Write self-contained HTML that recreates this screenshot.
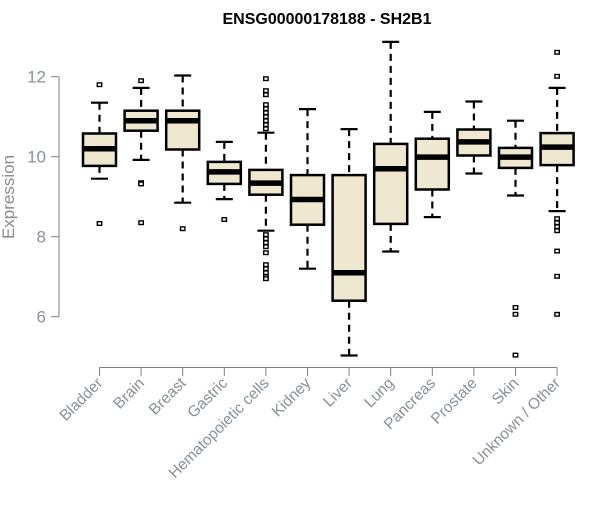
<!DOCTYPE html>
<html><head><meta charset="utf-8"><style>
body{margin:0;background:#fff;}
svg text{font-family:"Liberation Sans",Arial,sans-serif;}
</style></head><body>
<svg id="chart" width="600" height="500" xmlns="http://www.w3.org/2000/svg">
<text x="327" y="24" text-anchor="middle" font-size="16" font-weight="bold">ENSG00000178188 - SH2B1</text>
<text transform="translate(14,197) rotate(-90)" text-anchor="middle" font-size="17" fill="#8c8c8c">Expression</text>
<g id="axes"></g>
<g id="boxes"></g>
</svg>
<script>
const categories=["Bladder","Brain","Breast","Gastric","Hematopoietic cells","Kidney","Liver","Lung","Pancreas","Prostate","Skin","Unknown / Other"];
const q1=[9.77,10.65,10.18,9.32,9.05,8.3,6.4,8.32,9.18,10.03,9.72,9.79];
const med=[10.2,10.9,10.9,9.62,9.34,8.93,7.1,9.7,9.99,10.37,9.99,10.24];
const q3=[10.58,11.15,11.15,9.87,9.67,9.54,9.54,10.32,10.45,10.68,10.22,10.59];
const wlo=[9.45,9.92,8.85,8.94,8.15,7.2,5.03,7.63,8.49,9.58,9.03,8.64];
const whi=[11.35,11.72,12.03,10.37,10.6,11.19,10.69,12.87,11.12,11.38,10.9,11.72];
const outliers=[[11.8,8.33],[11.9,9.35,9.32,8.35],[8.2],[8.43],
[11.95,11.65,11.55,11.3,11.2,11.1,11.0,10.9,10.8,10.7,8.05,7.95,7.85,7.75,7.6,7.3,7.2,7.1,7.0,6.95],
[],[],[],[],[],[6.23,6.06,5.04],[12.61,12.01,8.45,8.35,8.25,8.15,7.64,7.01,6.06]];
const yTicks=[6,8,10,12];

const NS="http://www.w3.org/2000/svg";
const y=v=>156.7-(v-10)*40;
const x=i=>99.5+41.6*i;
function mk(tag,attrs,parent){const e=document.createElementNS(NS,tag);for(const k in attrs)e.setAttribute(k,attrs[k]);parent.appendChild(e);return e;}
const ax=document.getElementById('axes'),bx=document.getElementById('boxes');
const axisCol="#808080",labCol="#8a8f99";
let yl=mk('line',{x1:59,x2:59,y1:y(6),y2:y(12),stroke:axisCol,'stroke-width':1},ax);


yTicks.forEach(t=>{
 let l=mk('line',{x1:51,x2:59,y1:y(t),y2:y(t),stroke:axisCol},ax);
 
 
 let tx=mk('text',{x:46,y:y(t)+6,'text-anchor':'end','font-size':17,fill:labCol},ax);
 tx.textContent=t;
 
 
});
let xl=mk('line',{x1:x(0),x2:x(11),y1:367.5,y2:367.5,stroke:axisCol},ax);


categories.forEach((c,i)=>{
 let l=mk('line',{x1:x(i),x2:x(i),y1:367.5,y2:376,stroke:axisCol},ax);
 
 
 let tx=mk('text',{transform:`translate(${x(i)+4},${384}) rotate(-45)`,'text-anchor':'end','font-size':15.5,fill:labCol},ax);
 tx.textContent=c;
 
 
 const g=mk('g',{},bx);
 
 
 const cx=x(i);
 mk('line',{x1:cx,x2:cx,y1:y(whi[i]),y2:y(q3[i]),stroke:'#000','stroke-width':2.2,'stroke-dasharray':'7,5'},g);
 mk('line',{x1:cx,x2:cx,y1:y(q1[i]),y2:y(wlo[i]),stroke:'#000','stroke-width':2.2,'stroke-dasharray':'7,5'},g);
 mk('line',{x1:cx-8.5,x2:cx+8.5,y1:y(whi[i]),y2:y(whi[i]),stroke:'#000','stroke-width':2.2},g);
 mk('line',{x1:cx-8.5,x2:cx+8.5,y1:y(wlo[i]),y2:y(wlo[i]),stroke:'#000','stroke-width':2.2},g);
 mk('rect',{x:cx-16.5,y:y(q3[i]),width:33,height:y(q1[i])-y(q3[i]),fill:'#ede8cf',stroke:'#000','stroke-width':2.5},g);
 mk('line',{x1:cx-16.5,x2:cx+16.5,y1:y(med[i]),y2:y(med[i]),stroke:'#000','stroke-width':5.5},g);
 outliers[i].forEach(v=>{
  let o=mk('rect',{x:cx-2.2,y:y(v)-1.8,width:4.4,height:3.6,fill:'#fff',stroke:'#000','stroke-width':1.4},g);
  
  
 });
});
</script>
</body></html>
